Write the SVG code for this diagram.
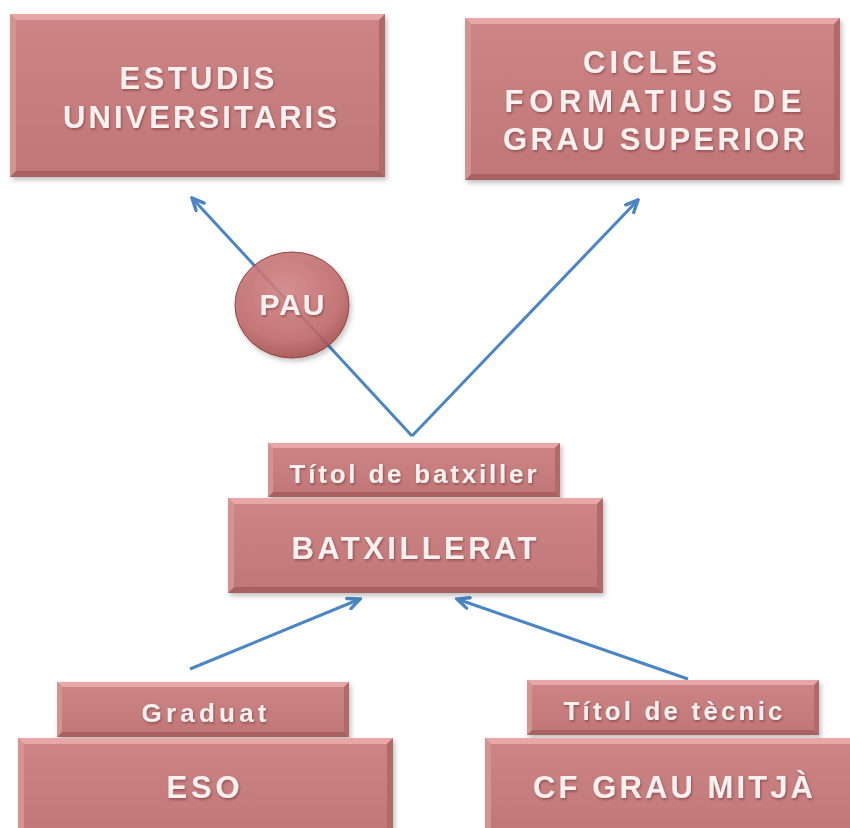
<svg xmlns="http://www.w3.org/2000/svg" width="850" height="828" viewBox="0 0 850 828">
<defs>
<linearGradient id="face" x1="0" y1="0" x2="0" y2="1">
<stop offset="0" stop-color="#cd8585"/>
<stop offset="1" stop-color="#c07676"/>
</linearGradient>
<radialGradient id="ball" cx="0.45" cy="0.35" r="0.7">
<stop offset="0" stop-color="#d48585"/>
<stop offset="0.7" stop-color="#bf6a6a"/>
<stop offset="1" stop-color="#9c4848"/>
</radialGradient>
<filter id="sh" x="-5%" y="-5%" width="112%" height="120%">
<feDropShadow dx="2" dy="3" stdDeviation="2.5" flood-color="#000" flood-opacity="0.25"/>
</filter>
<filter id="tsh" x="-5%" y="-20%" width="110%" height="150%">
<feDropShadow dx="1" dy="1.5" stdDeviation="1" flood-color="#5a2020" flood-opacity="0.5"/>
</filter>
<marker id="arr" viewBox="0 0 16 14" refX="14" refY="7" markerWidth="16" markerHeight="14" markerUnits="userSpaceOnUse" orient="auto">
<path d="M2,1.5 L14,7 L2,12.5" fill="none" stroke="#4a85c4" stroke-width="3.4" stroke-linejoin="miter" stroke-linecap="round"/>
</marker>
</defs>
<style>
.face{fill:url(#face);filter:url(#sh)}
.hl{fill:#e8a7a7}
.sd{fill:#d39393}
.dk{fill:#a86161}
.dr{fill:#b06a6a}
.t{font-family:"Liberation Sans",Arial,sans-serif;font-weight:bold;fill:#fcf0f0;text-anchor:middle;filter:url(#tsh)}
.big{font-size:31px}
.sm{font-size:26px}
.con{stroke:#4a85c4;stroke-width:3;fill:none;marker-end:url(#arr)}
</style>
<rect width="850" height="828" fill="#ffffff"/>

<g id="connectors">
<line class="con" x1="412" y1="436" x2="192" y2="198"/>
<line class="con" x1="412" y1="436" x2="638" y2="200"/>
<line class="con" x1="190" y1="669" x2="360" y2="599"/>
<line class="con" x1="688" y1="679" x2="457" y2="599"/>
</g>

<g id="estudis-universitaris">
<rect class="face" x="10" y="14" width="375" height="163"/>
<polygon class="hl" points="10,14 385,14 379,20 16,20"/>
<polygon class="dk" points="10,177 385,177 379,171 16,171"/>
<polygon class="sd" points="10,14 16,20 16,171 10,177"/>
<polygon class="dr" points="385,14 379,20 379,171 385,177"/>
<text class="t big" x="197" y="89" textLength="155" lengthAdjust="spacing">ESTUDIS</text>
<text class="t big" x="200" y="128" textLength="274" lengthAdjust="spacing">UNIVERSITARIS</text>
</g>

<g id="cicles-grau-superior">
<rect class="face" x="465" y="18" width="375" height="162"/>
<polygon class="hl" points="465,18 840,18 834,24 471,24"/>
<polygon class="dk" points="465,180 840,180 834,174 471,174"/>
<polygon class="sd" points="465,18 471,24 471,174 465,180"/>
<polygon class="dr" points="840,18 834,24 834,174 840,180"/>
<text class="t big" x="650" y="73" textLength="134" lengthAdjust="spacing">CICLES</text>
<text class="t big" x="653" y="112" textLength="297" lengthAdjust="spacing">FORMATIUS DE</text>
<text class="t big" x="654" y="150" textLength="302" lengthAdjust="spacing">GRAU SUPERIOR</text>
</g>

<g id="pau">
<ellipse cx="292" cy="305" rx="57" ry="53" fill="url(#ball)" fill-opacity="0.88" stroke="#944444" stroke-width="1" filter="url(#sh)"/>
<text class="t" style="font-size:30px" x="292" y="315" textLength="65" lengthAdjust="spacing">PAU</text>
</g>

<g id="titol-batxiller">
<rect class="face" x="268" y="443" width="292" height="54"/>
<polygon class="hl" points="268,443 560,443 555,448 273,448"/>
<polygon class="dk" points="268,497 560,497 555,492 273,492"/>
<polygon class="sd" points="268,443 273,448 273,492 268,497"/>
<polygon class="dr" points="560,443 555,448 555,492 560,497"/>
<text class="t sm" x="413" y="483" textLength="247" lengthAdjust="spacing">Títol de batxiller</text>
</g>

<g id="batxillerat">
<rect class="face" x="228" y="498" width="375" height="95"/>
<polygon class="hl" points="228,498 603,498 597,504 234,504"/>
<polygon class="dk" points="228,593 603,593 597,587 234,587"/>
<polygon class="sd" points="228,498 234,504 234,587 228,593"/>
<polygon class="dr" points="603,498 597,504 597,587 603,593"/>
<text class="t big" x="414" y="559" textLength="245" lengthAdjust="spacing">BATXILLERAT</text>
</g>

<g id="graduat">
<rect class="face" x="57" y="682" width="292" height="55"/>
<polygon class="hl" points="57,682 349,682 344,687 62,687"/>
<polygon class="dk" points="57,737 349,737 344,732 62,732"/>
<polygon class="sd" points="57,682 62,687 62,732 57,737"/>
<polygon class="dr" points="349,682 344,687 344,732 349,737"/>
<text class="t sm" x="204" y="722" textLength="125" lengthAdjust="spacing">Graduat</text>
</g>

<g id="eso">
<rect class="face" x="18" y="738" width="375" height="100"/>
<polygon class="hl" points="18,738 393,738 387,744 24,744"/>
<polygon class="sd" points="18,738 24,744 24,838 18,838"/>
<polygon class="dr" points="393,738 387,744 387,838 393,838"/>
<text class="t big" x="203" y="798" textLength="73" lengthAdjust="spacing">ESO</text>
</g>

<g id="titol-tecnic">
<rect class="face" x="527" y="680" width="292" height="55"/>
<polygon class="hl" points="527,680 819,680 814,685 532,685"/>
<polygon class="dk" points="527,735 819,735 814,730 532,730"/>
<polygon class="sd" points="527,680 532,685 532,730 527,735"/>
<polygon class="dr" points="819,680 814,685 814,730 819,735"/>
<text class="t sm" x="673" y="720" textLength="219" lengthAdjust="spacing">Títol de tècnic</text>
</g>

<g id="cf-grau-mitja">
<rect class="face" x="485" y="738" width="375" height="100"/>
<polygon class="hl" points="485,738 860,738 854,744 491,744"/>
<polygon class="sd" points="485,738 491,744 491,838 485,838"/>
<text class="t big" x="673" y="798" textLength="280" lengthAdjust="spacing">CF GRAU MITJÀ</text>
</g>
</svg>
